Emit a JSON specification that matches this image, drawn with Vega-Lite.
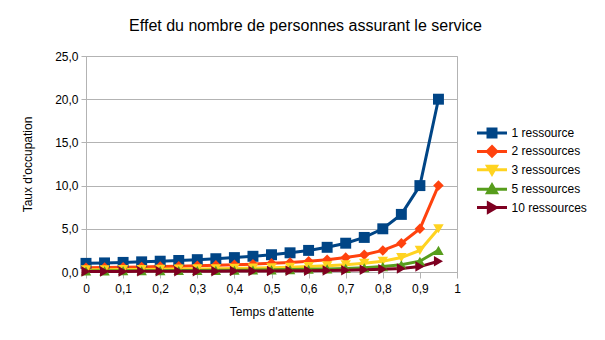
{
  "$schema": "https://vega.github.io/schema/vega-lite/v6.json",
  "autosize": "none",
  "width": 371,
  "height": 216,
  "padding": {"left": 86, "top": 56, "right": 148, "bottom": 68},
  "background": "white",
  "config": {
    "locale": {"number": {"decimal": ",", "thousands": " ", "grouping": [3], "currency": ["", " €"]}},
    "font": "Liberation Sans",
    "view": {"stroke": "#b3b3b3", "strokeWidth": 1}
  },
  "title": {"text": "Effet du nombre de personnes assurant le service", "fontSize": 16, "fontWeight": "normal", "font": "Liberation Sans", "color": "#000000", "anchor": "middle", "dx": 34, "offset": 16},
  "data": {"values": [
    {"x": 0, "s": "1 ressource", "y": 1}, {"x": 0.05, "s": "1 ressource", "y": 1.053}, {"x": 0.1, "s": "1 ressource", "y": 1.111}, {"x": 0.15, "s": "1 ressource", "y": 1.176}, {"x": 0.2, "s": "1 ressource", "y": 1.25}, {"x": 0.25, "s": "1 ressource", "y": 1.333}, {"x": 0.3, "s": "1 ressource", "y": 1.429}, {"x": 0.35, "s": "1 ressource", "y": 1.538}, {"x": 0.4, "s": "1 ressource", "y": 1.667}, {"x": 0.45, "s": "1 ressource", "y": 1.818}, {"x": 0.5, "s": "1 ressource", "y": 2}, {"x": 0.55, "s": "1 ressource", "y": 2.222}, {"x": 0.6, "s": "1 ressource", "y": 2.5}, {"x": 0.65, "s": "1 ressource", "y": 2.857}, {"x": 0.7, "s": "1 ressource", "y": 3.333}, {"x": 0.75, "s": "1 ressource", "y": 4}, {"x": 0.8, "s": "1 ressource", "y": 5}, {"x": 0.85, "s": "1 ressource", "y": 6.667}, {"x": 0.9, "s": "1 ressource", "y": 10}, {"x": 0.95, "s": "1 ressource", "y": 20},
    {"x": 0, "s": "2 ressources", "y": 0.5}, {"x": 0.05, "s": "2 ressources", "y": 0.526}, {"x": 0.1, "s": "2 ressources", "y": 0.556}, {"x": 0.15, "s": "2 ressources", "y": 0.588}, {"x": 0.2, "s": "2 ressources", "y": 0.625}, {"x": 0.25, "s": "2 ressources", "y": 0.667}, {"x": 0.3, "s": "2 ressources", "y": 0.714}, {"x": 0.35, "s": "2 ressources", "y": 0.769}, {"x": 0.4, "s": "2 ressources", "y": 0.833}, {"x": 0.45, "s": "2 ressources", "y": 0.909}, {"x": 0.5, "s": "2 ressources", "y": 1}, {"x": 0.55, "s": "2 ressources", "y": 1.111}, {"x": 0.6, "s": "2 ressources", "y": 1.25}, {"x": 0.65, "s": "2 ressources", "y": 1.429}, {"x": 0.7, "s": "2 ressources", "y": 1.667}, {"x": 0.75, "s": "2 ressources", "y": 2}, {"x": 0.8, "s": "2 ressources", "y": 2.5}, {"x": 0.85, "s": "2 ressources", "y": 3.333}, {"x": 0.9, "s": "2 ressources", "y": 5}, {"x": 0.95, "s": "2 ressources", "y": 10},
    {"x": 0, "s": "3 ressources", "y": 0.25}, {"x": 0.05, "s": "3 ressources", "y": 0.263}, {"x": 0.1, "s": "3 ressources", "y": 0.278}, {"x": 0.15, "s": "3 ressources", "y": 0.294}, {"x": 0.2, "s": "3 ressources", "y": 0.313}, {"x": 0.25, "s": "3 ressources", "y": 0.333}, {"x": 0.3, "s": "3 ressources", "y": 0.357}, {"x": 0.35, "s": "3 ressources", "y": 0.385}, {"x": 0.4, "s": "3 ressources", "y": 0.417}, {"x": 0.45, "s": "3 ressources", "y": 0.455}, {"x": 0.5, "s": "3 ressources", "y": 0.5}, {"x": 0.55, "s": "3 ressources", "y": 0.556}, {"x": 0.6, "s": "3 ressources", "y": 0.625}, {"x": 0.65, "s": "3 ressources", "y": 0.714}, {"x": 0.7, "s": "3 ressources", "y": 0.833}, {"x": 0.75, "s": "3 ressources", "y": 1}, {"x": 0.8, "s": "3 ressources", "y": 1.25}, {"x": 0.85, "s": "3 ressources", "y": 1.667}, {"x": 0.9, "s": "3 ressources", "y": 2.5}, {"x": 0.95, "s": "3 ressources", "y": 5},
    {"x": 0, "s": "5 ressources", "y": 0.125}, {"x": 0.05, "s": "5 ressources", "y": 0.132}, {"x": 0.1, "s": "5 ressources", "y": 0.139}, {"x": 0.15, "s": "5 ressources", "y": 0.147}, {"x": 0.2, "s": "5 ressources", "y": 0.156}, {"x": 0.25, "s": "5 ressources", "y": 0.167}, {"x": 0.3, "s": "5 ressources", "y": 0.179}, {"x": 0.35, "s": "5 ressources", "y": 0.192}, {"x": 0.4, "s": "5 ressources", "y": 0.208}, {"x": 0.45, "s": "5 ressources", "y": 0.227}, {"x": 0.5, "s": "5 ressources", "y": 0.25}, {"x": 0.55, "s": "5 ressources", "y": 0.278}, {"x": 0.6, "s": "5 ressources", "y": 0.313}, {"x": 0.65, "s": "5 ressources", "y": 0.357}, {"x": 0.7, "s": "5 ressources", "y": 0.417}, {"x": 0.75, "s": "5 ressources", "y": 0.5}, {"x": 0.8, "s": "5 ressources", "y": 0.625}, {"x": 0.85, "s": "5 ressources", "y": 0.833}, {"x": 0.9, "s": "5 ressources", "y": 1.25}, {"x": 0.95, "s": "5 ressources", "y": 2.5},
    {"x": 0, "s": "10 ressources", "y": 0.063}, {"x": 0.05, "s": "10 ressources", "y": 0.066}, {"x": 0.1, "s": "10 ressources", "y": 0.069}, {"x": 0.15, "s": "10 ressources", "y": 0.074}, {"x": 0.2, "s": "10 ressources", "y": 0.078}, {"x": 0.25, "s": "10 ressources", "y": 0.083}, {"x": 0.3, "s": "10 ressources", "y": 0.089}, {"x": 0.35, "s": "10 ressources", "y": 0.096}, {"x": 0.4, "s": "10 ressources", "y": 0.104}, {"x": 0.45, "s": "10 ressources", "y": 0.114}, {"x": 0.5, "s": "10 ressources", "y": 0.125}, {"x": 0.55, "s": "10 ressources", "y": 0.139}, {"x": 0.6, "s": "10 ressources", "y": 0.156}, {"x": 0.65, "s": "10 ressources", "y": 0.179}, {"x": 0.7, "s": "10 ressources", "y": 0.208}, {"x": 0.75, "s": "10 ressources", "y": 0.25}, {"x": 0.8, "s": "10 ressources", "y": 0.313}, {"x": 0.85, "s": "10 ressources", "y": 0.417}, {"x": 0.9, "s": "10 ressources", "y": 0.625}, {"x": 0.95, "s": "10 ressources", "y": 1.25}
  ]},
  "encoding": {
    "x": {"field": "x", "type": "quantitative", "scale": {"domain": [0, 1], "nice": false, "zero": false},
      "axis": {"title": "Temps d'attente", "values": [0, 0.1, 0.2, 0.3, 0.4, 0.5, 0.6, 0.7, 0.8, 0.9, 1], "format": "~g", "grid": false, "domainColor": "#b3b3b3", "tickColor": "#b3b3b3", "tickSize": 6, "labelPadding": 5, "labelFont": "Liberation Sans", "labelFontSize": 12, "labelColor": "#000000", "titleFont": "Liberation Sans", "titleFontSize": 12, "titleFontWeight": "normal", "titleColor": "#000000", "titlePadding": 12, "labelOverlap": false, "labelFlush": false}},
    "y": {"field": "y", "type": "quantitative", "scale": {"domain": [0, 25], "nice": false},
      "axis": {"title": "Taux d'occupation", "values": [0, 5, 10, 15, 20, 25], "format": ".1f", "gridColor": "#b3b3b3", "domainColor": "#b3b3b3", "tickColor": "#b3b3b3", "tickSize": 5, "labelPadding": 3, "labelFont": "Liberation Sans", "labelFontSize": 12, "labelColor": "#000000", "titleFont": "Liberation Sans", "titleFontSize": 12, "titleFontWeight": "normal", "titleColor": "#000000", "titlePadding": 20}},
    "color": {"field": "s", "type": "nominal",
      "scale": {"domain": ["1 ressource", "2 ressources", "3 ressources", "5 ressources", "10 ressources"], "range": ["#004586", "#ff420e", "#ffd320", "#579d1c", "#7e0021"]},
      "legend": {"title": null, "orient": "none", "legendX": 399, "legendY": 70, "symbolSize": 110, "symbolStrokeWidth": 3, "labelOffset": 12.5, "rowPadding": -2.6, "labelFont": "Liberation Sans", "labelFontSize": 12, "labelColor": "#000000",
        "encode": {"symbols": {"update": {
          "shape": {"signal": "['M-2.86,0H2.86M-0.76,-0.76H0.76V0.76H-0.76Z','M-2.86,0H2.86M0,-0.9L0.9,0L0,0.9L-0.9,0Z','M-2.86,0H2.86M-0.86,-0.7H0.86L0,0.8Z','M-2.86,0H2.86M0,-0.8L0.86,0.7H-0.86Z','M-2.86,0H2.86M-0.7,-0.86L0.8,0L-0.7,0.86Z'][datum.index]"},
          "fill": {"signal": "scale('color', datum.value)"},
          "stroke": {"signal": "scale('color', datum.value)"},
          "strokeWidth": {"value": 3},
          "opacity": {"value": 1}
        }}}}
    }
  },
  "layer": [
    {"mark": {"type": "line", "strokeWidth": 3}},
    {"transform": [{"filter": "datum.s == '1 ressource'"}], "mark": {"type": "point", "shape": "square", "filled": true, "opacity": 1, "size": 120}},
    {"transform": [{"filter": "datum.s == '2 ressources'"}], "mark": {"type": "point", "shape": "diamond", "filled": true, "opacity": 1, "size": 110}},
    {"transform": [{"filter": "datum.s == '3 ressources'"}], "mark": {"type": "point", "shape": "triangle-down", "filled": true, "opacity": 1, "size": 110}},
    {"transform": [{"filter": "datum.s == '5 ressources'"}], "mark": {"type": "point", "shape": "triangle-up", "filled": true, "opacity": 1, "size": 110}},
    {"transform": [{"filter": "datum.s == '10 ressources'"}], "mark": {"type": "point", "shape": "triangle-right", "filled": true, "opacity": 1, "size": 110}}
  ]
}
